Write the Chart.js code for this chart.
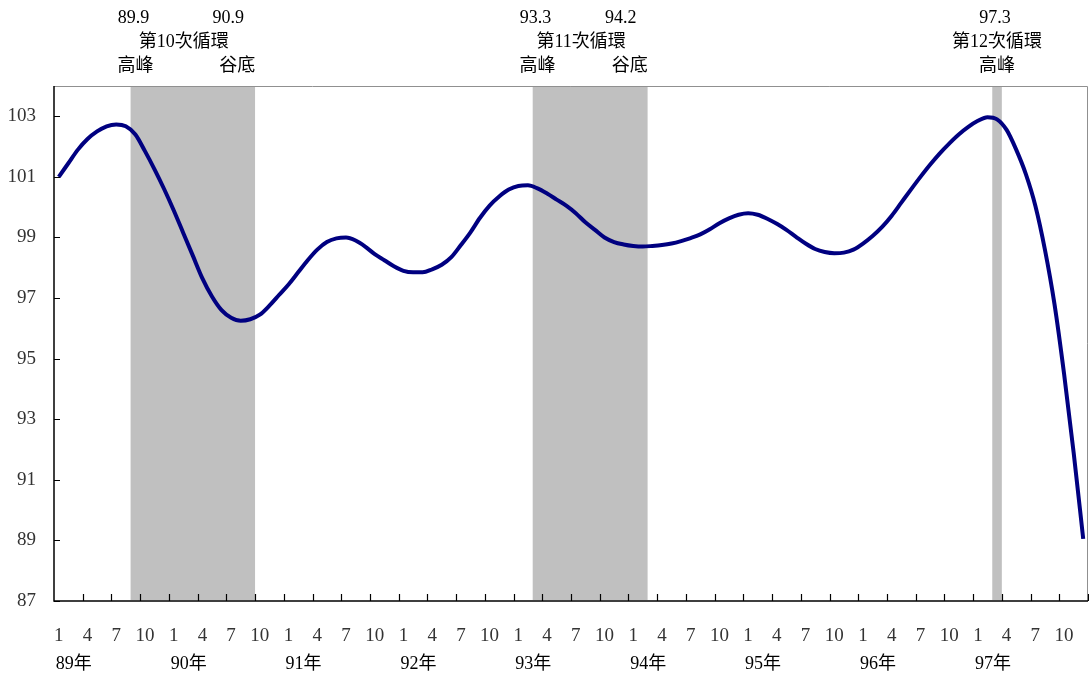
<!DOCTYPE html>
<html>
<head>
<meta charset="utf-8">
<script src="https://cdn.jsdelivr.net/npm/chart.js@4/dist/chart.umd.min.js"></script>
<style>
  html, body { margin: 0; padding: 0; background: #fff; }
  canvas { display: block; }
</style>
</head>
<body>
<canvas id="leadingChart" width="1089" height="677"></canvas>
<script>
// 民國年份與月份
const years = ['89年', '90年', '91年', '92年', '93年', '94年', '95年', '96年', '97年'];
const monthTicks = [1, 4, 7, 10];
const yTicks = [87, 89, 91, 93, 95, 97, 99, 101, 103];

// 領先指標（每列 12 個月）
const leadingIndex = [
    101.0, 101.45, 101.9, 102.25, 102.5, 102.67, 102.73, 102.67, 102.4, 101.85, 101.25, 100.6,  // 89
    99.9, 99.15, 98.4, 97.65, 97.05, 96.6, 96.35, 96.25, 96.3, 96.45, 96.75, 97.1,             // 90
    97.45, 97.85, 98.25, 98.6, 98.85, 98.97, 99.0, 98.9, 98.7, 98.45, 98.25, 98.05,            // 91
    97.9, 97.85, 97.85, 97.95, 98.1, 98.35, 98.75, 99.17, 99.65, 100.05, 100.35, 100.58,       // 92
    100.7, 100.72, 100.62, 100.45, 100.25, 100.05, 99.8, 99.5, 99.25, 99.0, 98.85, 98.77,      // 93
    98.72, 98.7, 98.72, 98.75, 98.8, 98.88, 98.98, 99.1, 99.27, 99.47, 99.63, 99.75,           // 94
    99.8, 99.75, 99.62, 99.45, 99.25, 99.02, 98.8, 98.62, 98.52, 98.48, 98.5, 98.6,            // 95
    98.8, 99.05, 99.35, 99.72, 100.15, 100.58, 101.0, 101.4, 101.77, 102.1, 102.4, 102.65,     // 96
    102.85, 102.97, 102.9, 102.55, 101.9, 101.1, 100.05, 98.6, 96.8, 94.5, 91.9, 89.05         // 97
];

// 景氣循環高峰與谷底
const cycleNames = ['第10次循環', '第11次循環', '第12次循環'];
const peakMonths = ['89-9', '93-3', '97-3'];
const troughMonths = ['90-9', '94-2', null];
const peakLabels = ['89.9', '93.3', '97.3'];
const troughLabels = ['90.9', '94.2', null];

const labels = [];
years.forEach((y, i) => {
    for (let m = 1; m <= 12; m++) labels.push((89 + i) + '-' + m);
});

const TEXT_FONT = "18px 'Liberation Serif', 'Noto Sans CJK TC'";

const cyclePlugin = {
    id: 'cycles',
    beforeDatasetsDraw(chart) {
        const { ctx, chartArea, scales: { x } } = chart;
        const half = (x.getPixelForValue(1) - x.getPixelForValue(0)) / 2;
        ctx.save();
        ctx.fillStyle = '#c0c0c0';
        peakMonths.forEach((p, i) => {
            const i0 = labels.indexOf(p);
            const i1 = labels.indexOf(troughMonths[i] || p);
            const left = x.getPixelForValue(i0) - half;
            const right = x.getPixelForValue(i1) + half;
            ctx.fillRect(left, chartArea.top, right - left, chartArea.bottom - chartArea.top - 1);
        });
        ctx.restore();
    },
    afterDatasetsDraw(chart) {
        const { ctx, chartArea, scales: { x, y } } = chart;
        const half = (x.getPixelForValue(1) - x.getPixelForValue(0)) / 2;
        ctx.save();

        // 外框
        ctx.strokeStyle = '#909090';
        ctx.lineWidth = 1;
        ctx.beginPath();
        ctx.moveTo(chartArea.left, chartArea.top + 0.5);
        ctx.lineTo(chartArea.right - 0.5, chartArea.top + 0.5);
        ctx.lineTo(chartArea.right - 0.5, chartArea.bottom);
        ctx.stroke();

        // 座標軸
        ctx.strokeStyle = '#000';
        ctx.lineWidth = 1.5;
        ctx.beginPath();
        ctx.moveTo(chartArea.left, chartArea.top);
        ctx.lineTo(chartArea.left, chartArea.bottom);
        ctx.lineTo(chartArea.right, chartArea.bottom);
        ctx.stroke();

        // 內側刻度
        ctx.lineWidth = 1.2;
        ctx.beginPath();
        yTicks.forEach(v => {
            const py = Math.round(y.getPixelForValue(v)) + 0.5;
            ctx.moveTo(chartArea.left, py);
            ctx.lineTo(chartArea.left + 6, py);
        });
        for (let i = 3; i <= labels.length; i += 3) {
            const px = Math.round(x.getPixelForValue(i) - half) + 0.5;
            ctx.moveTo(px, chartArea.bottom);
            ctx.lineTo(px, chartArea.bottom - 7);
        }
        ctx.stroke();

        // 年份
        ctx.fillStyle = '#000';
        ctx.font = TEXT_FONT;
        ctx.textAlign = 'left';
        ctx.textBaseline = 'middle';
        years.forEach((yr, i) => {
            ctx.fillText(yr, x.getPixelForValue(i * 12) - 3, 664);
        });

        // 高峰、谷底標示
        ctx.textAlign = 'center';
        peakMonths.forEach((p, i) => {
            const pc = x.getPixelForValue(labels.indexOf(p));
            ctx.fillText(peakLabels[i], pc - 2, 18);
            ctx.fillText('高峰', pc, 66);
            let nameX = pc;
            if (troughMonths[i]) {
                const tc = x.getPixelForValue(labels.indexOf(troughMonths[i]));
                ctx.fillText(troughLabels[i], tc - 22, 18);
                ctx.fillText('谷底', tc - 13, 66);
                nameX = (pc - 2 + tc - 22) / 2 + 3;
            }
            ctx.fillText(cycleNames[i], nameX, 42);
        });
        ctx.restore();
    }
};

const ctx = document.getElementById('leadingChart').getContext('2d');

new Chart(ctx, {
    type: 'line',
    data: {
        labels: labels,
        datasets: [{
            data: leadingIndex,
            borderColor: '#000080',
            borderWidth: 4,
            pointRadius: 0,
            cubicInterpolationMode: 'monotone',
            fill: false
        }]
    },
    options: {
        responsive: false,
        animation: false,
        layout: { padding: { top: 86, right: 1, left: 0, bottom: 0 } },
        plugins: {
            legend: { display: false },
            tooltip: { enabled: false }
        },
        scales: {
            x: {
                offset: true,
                grid: { display: false, drawTicks: false },
                border: { display: false },
                afterFit: scale => {
                    scale.height = 76;
                    scale.paddingLeft = 0;
                    scale.paddingRight = 0;
                },
                ticks: {
                    autoSkip: false,
                    maxRotation: 0,
                    padding: 24,
                    color: '#333',
                    font: { family: "'Liberation Serif'", size: 19 },
                    callback: function (value) {
                        const m = Number(this.getLabelForValue(value).split('-')[1]);
                        return monthTicks.includes(m) ? String(m) : '';
                    }
                }
            },
            y: {
                min: 87,
                max: 104,
                grid: { display: false, drawTicks: false },
                border: { display: false },
                afterFit: scale => { scale.width = 54; },
                afterBuildTicks: scale => { scale.ticks = yTicks.map(v => ({ value: v })); },
                ticks: {
                    padding: 18,
                    color: '#333',
                    font: { family: "'Liberation Serif'", size: 19 }
                }
            }
        }
    },
    plugins: [cyclePlugin]
});
</script>
</body>
</html>
